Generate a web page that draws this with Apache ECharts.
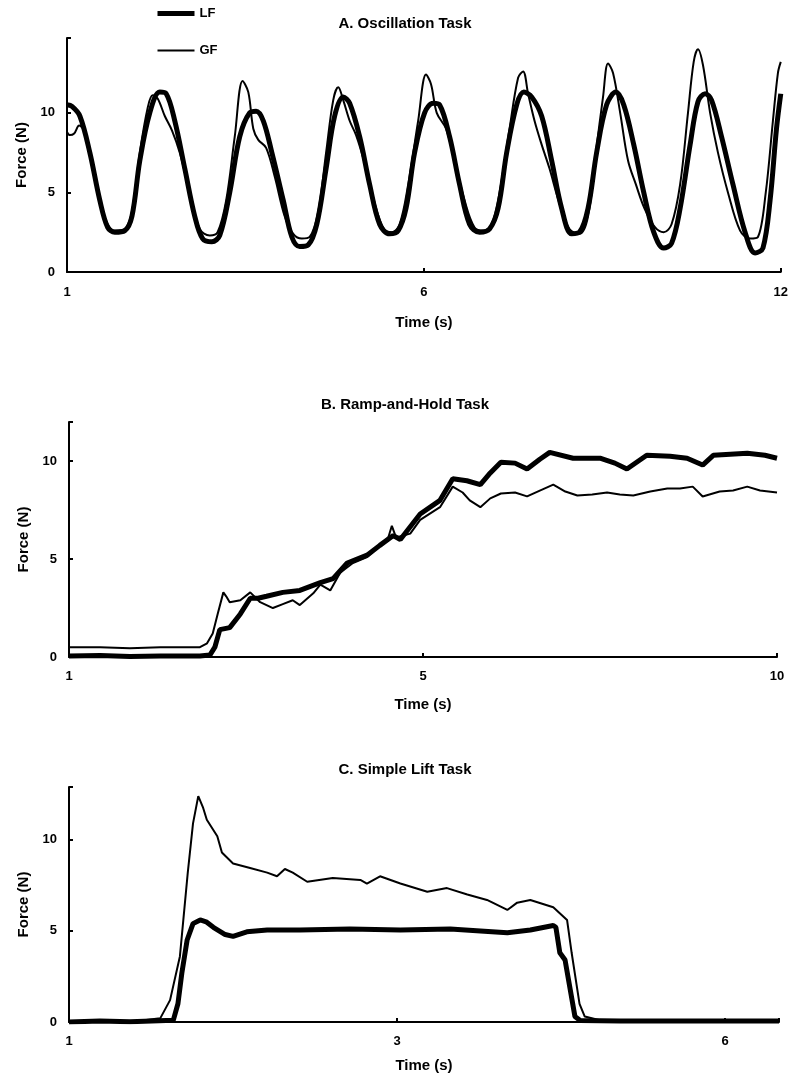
<!DOCTYPE html>
<html>
<head>
<meta charset="utf-8">
<script src="https://cdn.jsdelivr.net/npm/echarts@6/dist/echarts.min.js"></script>
<style>html,body{margin:0;padding:0;background:#fff;}#c{width:791px;height:1082px;}</style>
</head>
<body>
<div id="c"></div>
<script>
// x values are in percent of each panel's time window (tick labels below map them to seconds)
const xTicksA = ['1', '6', '12'];
const xTicksB = ['1', '5', '10'];
const xTicksC = ['1', '3', '6'];
const yTicks = ['0', '5', '10'];

// Panel A: Oscillation task
const lfA_t = [0,0.7,1.8,3.2,4.6,5.7,6.7,8.1,9.1,10.2,11.6,13.0,13.9,15.1,16.5,17.9,19.0,20.3,21.4,22.8,24.2,25.6,26.5,27.5,28.7,30.3,31.5,32.6,33.8,35.0,36.3,37.5,38.7,39.6,41.0,42.4,43.8,45.2,46.4,47.5,48.7,50.1,51.3,52.2,53.6,55.0,56.4,57.8,59.2,60.4,61.6,63.0,64.0,65.1,66.5,67.9,69.3,70.7,71.8,73.0,74.2,75.6,76.9,78.0,79.4,80.8,82.2,83.6,84.7,85.9,87.3,88.4,89.4,90.3,91.7,93.3,95.0,96.4,97.5,98.5,99.4,100];
const lfA_f = [10.5,10.4,9.8,7.5,4.5,2.8,2.5,2.6,3.5,7,10,11.3,11.2,9.5,6.5,3.5,2.1,1.9,2.3,5,8.5,10,10.1,9.5,7.5,4.5,2.2,1.6,1.7,3,6.5,9.8,11,10.6,8.5,5.5,3,2.4,2.6,4,7.5,10,10.6,10.5,8.5,5.5,3,2.5,2.7,4,7.5,10.5,11.3,11,9.8,7,4,2.4,2.5,4,7.5,10.5,11.3,10.5,8,5,2.5,1.5,1.8,4,8,10.7,11.2,10.8,8.5,5.5,2.5,1.2,1.5,4.5,9,11.2];
const gfA_t = [0,0.4,1.0,1.7,2.5,3.5,4.6,5.7,6.7,8.1,9.1,10.2,11.3,12.0,12.7,13.7,14.7,15.8,17.2,18.6,20.0,21.1,22.3,23.5,24.6,25.4,26.1,26.8,27.9,29.1,30.5,31.7,32.9,34.0,35.2,36.3,37.3,38.0,38.7,39.6,40.5,41.6,43.0,44.4,45.5,46.6,47.8,49.2,50.3,51.0,51.8,53.1,54.3,55.7,57.1,58.4,59.5,60.6,62.0,63.2,63.9,64.6,65.5,66.5,67.6,69.0,70.4,71.8,73.0,74.1,75.1,75.8,76.5,77.5,78.6,79.7,80.9,82.4,83.6,84.7,85.9,87.0,87.8,88.4,89.1,90.1,91.2,92.6,94.3,95.7,96.8,97.9,98.9,99.6,100];
const gfA_f = [8.8,8.6,8.7,9.2,8.8,7,4.5,3,2.6,2.7,3.8,7.5,10.3,11.1,10.9,9.8,8.9,7.5,5,2.7,2.3,2.5,4.5,8.5,12,11.3,9,8.3,7.8,6,3.5,2.4,2.1,2.2,3.8,7.5,10.8,11.6,10.8,9.5,8.6,7,4.5,2.7,2.5,3,5.5,9.5,12.4,11.8,10,9,7,4.5,2.8,2.6,3,5,9,12.2,12.6,11.2,9.5,8,6.5,4.3,2.7,2.4,3.5,7.5,11,13.1,12.5,10,7,5.5,4,2.8,2.5,3,5.5,10,13.2,14,13,10,7.5,5,2.6,2.1,2.2,5,9.5,12.5,13.2];

// Panel B: Ramp-and-hold task
const gfB_t = [0,4.4,8.6,12.9,18.5,19.5,20.3,21.0,21.8,22.2,22.7,24.2,25.6,27.0,28.8,30.2,31.6,32.6,34.5,35.5,36.9,38.3,40.1,42.1,43.9,45.1,45.6,46.2,48.2,49.6,52.4,54.2,55.6,56.6,58.1,59.5,61.0,63.0,64.7,66.5,68.4,70.1,71.8,73.9,76.0,77.8,79.7,82.1,84.5,86.3,88.1,89.5,91.9,93.8,95.8,97.6,100];
const gfB_f = [0.5,0.5,0.45,0.5,0.5,0.7,1.2,2.2,3.3,3.1,2.8,2.9,3.3,2.8,2.5,2.7,2.9,2.65,3.25,3.7,3.4,4.3,4.8,5.1,5.7,6.1,6.7,6.1,6.3,7.0,7.65,8.7,8.4,8.0,7.65,8.1,8.35,8.4,8.2,8.5,8.8,8.45,8.25,8.3,8.4,8.3,8.25,8.45,8.6,8.6,8.7,8.2,8.45,8.5,8.7,8.5,8.4];
const lfB_t = [0,4.4,8.6,12.9,18.5,19.9,20.6,21.3,22.7,24.2,25.6,26.7,27.9,30.2,32.6,35.5,37.3,39.3,42.1,43.9,45.8,46.8,49.6,52.4,54.2,56.2,58.1,59.5,61.0,63.0,64.7,66.5,67.9,71.2,75.0,77.1,78.8,81.6,84.9,87.3,89.5,91.0,93.4,95.8,98.3,100];
const lfB_f = [0.05,0.08,0.03,0.05,0.05,0.1,0.5,1.4,1.5,2.2,3.0,3.0,3.1,3.3,3.4,3.8,4.0,4.8,5.2,5.7,6.2,6.0,7.3,8.0,9.1,9.0,8.8,9.4,9.95,9.9,9.6,10.1,10.45,10.15,10.15,9.9,9.6,10.3,10.25,10.15,9.8,10.3,10.35,10.4,10.3,10.15];

// Panel C: Simple lift task
const gfC_t = [0,4.7,9.3,13.9,15.4,16.9,18.1,18.9,19.7,20.4,21.0,22.6,23.3,25.0,27.6,30.2,31.7,32.9,34.1,36.3,40.2,44.4,45.4,47.4,50.5,54.6,57.6,60.7,63.7,66.8,68.3,70.3,73.8,75.9,76.6,77.8,78.6,80.9,88.6,96.2,108.2];
const gfC_f = [0.02,0.05,0.0,0.2,1.2,3.6,8.2,10.9,12.4,11.8,11.1,10.2,9.3,8.7,8.45,8.2,8.0,8.4,8.2,7.7,7.9,7.8,7.6,8.0,7.6,7.15,7.35,7.0,6.7,6.15,6.55,6.7,6.3,5.6,3.8,1.0,0.3,0.1,0.05,0.05,0.05];
const lfC_t = [0,4.7,9.3,15.9,16.6,17.2,18.0,18.9,20.0,20.9,22.0,23.8,25.0,27.1,30.2,35.2,42.8,50.5,58.1,62.7,66.8,70.3,73.8,74.2,74.8,75.6,77.1,77.9,84.0,96.2,108.2];
const lfC_f = [0,0.05,0.02,0.1,1.0,2.7,4.5,5.4,5.6,5.5,5.2,4.8,4.7,4.95,5.05,5.05,5.1,5.05,5.1,5.0,4.9,5.05,5.3,5.2,3.8,3.4,0.3,0.08,0.05,0.05,0.05];

const FONT = 'Liberation Sans, Arial, sans-serif';
const zip = (t, f) => t.map((v, i) => [v, f[i]]);
const tickFmt = (arr, step) => v => {
  const k = v / step;
  return Number.isInteger(k) && k < arr.length ? arr[k] : '';
};

const panels = [
  { title: 'A. Oscillation Task', titleTop: 11, grid: { left: 67, right: 10, top: 38, height: 234 }, xmax: 100, ymax: 14.7, xt: xTicksA, lf: zip(lfA_t, lfA_f), gf: zip(gfA_t, gfA_f), smooth: 0.35, nameGap: 43, labelMargin: 14 },
  { title: 'B. Ramp-and-Hold Task', titleTop: 392, grid: { left: 69, right: 14, top: 422, height: 235 }, xmax: 100, ymax: 12, xt: xTicksB, lf: zip(lfB_t, lfB_f), gf: zip(gfB_t, gfB_f), smooth: false, nameGap: 40, labelMargin: 13 },
  { title: 'C. Simple Lift Task', titleTop: 757, grid: { left: 69, right: 12, top: 787, height: 235 }, xmax: 108.2, ymax: 12.9, xt: xTicksC, lf: zip(lfC_t, lfC_f), gf: zip(gfC_t, gfC_f), smooth: false, nameGap: 36, labelMargin: 13 }
];

const axisLineStyle = { color: '#000', width: 2 };
const labelStyle = { color: '#000', fontWeight: 'bold', fontSize: 13, fontFamily: FONT };
const nameStyle = { color: '#000', fontWeight: 'bold', fontSize: 15, fontFamily: FONT };

const option = {
  animation: false,
  backgroundColor: '#fff',
  title: panels.map(p => ({
    text: p.title, left: 400, top: p.titleTop, textAlign: 'center',
    textStyle: { color: '#000', fontWeight: 'bold', fontSize: 15, fontFamily: FONT }
  })),
  legend: {
    orient: 'vertical', left: 150, top: 2, itemWidth: 37, itemHeight: 14, itemGap: 24,
    textStyle: { color: '#000', fontWeight: 'bold', fontSize: 13, fontFamily: FONT },
    itemStyle: { opacity: 0 },
    data: [
      { name: 'LF', lineStyle: { width: 5, color: '#000' }, itemStyle: { opacity: 0 } },
      { name: 'GF', lineStyle: { width: 2, color: '#000' }, itemStyle: { opacity: 0 } }
    ]
  },
  grid: panels.map(p => p.grid),
  xAxis: panels.map((p, i) => ({
    type: 'value', gridIndex: i, min: 0, max: p.xmax, interval: 50,
    name: 'Time (s)', nameLocation: 'middle', nameGap: p.nameGap, nameTextStyle: nameStyle,
    axisLine: { lineStyle: axisLineStyle },
    axisTick: { inside: true, length: 4, lineStyle: { color: '#000', width: 2 } },
    axisLabel: { ...labelStyle, margin: p.labelMargin, formatter: tickFmt(p.xt, 50), showMaxLabel: true },
    splitLine: { show: false }
  })),
  yAxis: panels.map((p, i) => ({
    type: 'value', gridIndex: i, min: 0, max: p.ymax, interval: 5,
    name: 'Force (N)', nameLocation: 'middle', nameGap: 38, nameTextStyle: nameStyle,
    axisLine: { show: true, lineStyle: axisLineStyle },
    axisTick: { show: true, inside: true, length: 4, lineStyle: { color: '#000', width: 2 } },
    axisLabel: { ...labelStyle, margin: 12, formatter: tickFmt(yTicks, 5) },
    splitLine: { show: false }
  })),
  series: []
};

panels.forEach((p, i) => {
  option.series.push({
    name: 'LF', type: 'line', xAxisIndex: i, yAxisIndex: i, data: p.lf, symbol: 'none',
    smooth: p.smooth, lineStyle: { color: '#000', width: 5 }, itemStyle: { color: '#000' }, z: 2
  });
  option.series.push({
    name: 'GF', type: 'line', xAxisIndex: i, yAxisIndex: i, data: p.gf, symbol: 'none',
    smooth: p.smooth, lineStyle: { color: '#000', width: 2 }, itemStyle: { color: '#000' }, z: 3
  });
});

const chart = echarts.init(document.getElementById('c'), null, { renderer: 'canvas' });
chart.setOption(option);
</script>
</body>
</html>
